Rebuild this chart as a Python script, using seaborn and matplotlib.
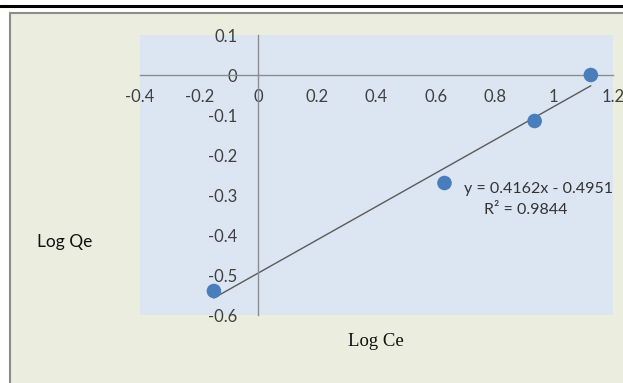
import numpy as np
import pandas as pd
import seaborn as sns
import matplotlib.pyplot as plt
from matplotlib.lines import Line2D
from matplotlib.patches import Rectangle
from matplotlib.ticker import FuncFormatter

# data
log_ce = [-0.15, 0.63, 0.935, 1.125]
log_qe = [-0.54, -0.27, -0.115, 0.0]
slope = 0.4162
intercept = -0.4951
x_ticks = [-0.4, -0.2, 0, 0.2, 0.4, 0.6, 0.8, 1, 1.2]
y_ticks = [0.1, 0, -0.1, -0.2, -0.3, -0.4, -0.5, -0.6]

df = pd.DataFrame({"log_ce": log_ce, "log_qe": log_qe})
fit = pd.DataFrame({"x": [min(log_ce), max(log_ce)]})
fit["y"] = slope * fit["x"] + intercept

sns.set_style("white")
plt.rcParams["font.family"] = ["Lato", "DejaVu Sans"]
plt.rcParams["axes.unicode_minus"] = False

W, H = 623, 383
fig = plt.figure(figsize=(W / 100, H / 100), dpi=100)
fig.patch.set_facecolor("white")

# outer frame of the chart area (runs off the right and bottom edges)
fig.add_artist(Rectangle((10 / W, -0.1), 1.2, 1.1 - 13 / H, transform=fig.transFigure,
                         facecolor="#EBEEDE", edgecolor="#8C8C8C", linewidth=1.5, zorder=0))
fig.add_artist(Line2D([0, 1], [1 - 5.5 / H, 1 - 5.5 / H], transform=fig.transFigure,
                      color="black", linewidth=2.2))

ax = fig.add_axes([140 / W, 1 - 315 / H, 473 / W, 280 / H])
ax.set_facecolor("#DCE6F2")

sns.lineplot(data=fit, x="x", y="y", color="#5A5A5A", linewidth=1.0, ax=ax, zorder=2)
sns.scatterplot(data=df, x="log_ce", y="log_qe", color="#4A7EBB", s=110, edgecolor="none",
                ax=ax, zorder=3, clip_on=False)

ax.set_xlim(-0.4, 1.2)
ax.set_ylim(-0.6, 0.1)
ax.set_xticks(x_ticks)
ax.set_yticks(y_ticks)
fmt = FuncFormatter(lambda v, p: f"{v:g}")
ax.xaxis.set_major_formatter(fmt)
ax.yaxis.set_major_formatter(fmt)

for s in ["top", "right"]:
    ax.spines[s].set_visible(False)
ax.spines["left"].set_position(("data", 0))
ax.spines["bottom"].set_position(("data", 0))
for s in ["left", "bottom"]:
    ax.spines[s].set_color("#8C8C8C")
    ax.spines[s].set_linewidth(1.0)

ax.tick_params(axis="both", direction="out", length=4, width=1.0, color="#8C8C8C",
               labelsize=12, labelcolor="#404040")
ax.tick_params(axis="x", pad=6)
ax.tick_params(axis="y", pad=11)
ax.set_xlabel("")
ax.set_ylabel("")

ax.text(0.697, -0.286, "y = 0.4162x - 0.4951", fontsize=11.5, color="#333333",
        ha="left", va="center")
ax.text(0.905, -0.338, "R\u00b2 = 0.9844", fontsize=11.5, color="#333333",
        ha="center", va="center")

fig.text(65 / W, 1 - 242 / H, "Log Qe", fontsize=12.5, ha="center", va="center", color="#111111")
fig.text(376 / W, 1 - 341 / H, "Log Ce", fontsize=13.5, ha="center", va="center",
         color="#111111", family=["Liberation Serif", "DejaVu Serif"])

plt.savefig("out.png", dpi=100)
